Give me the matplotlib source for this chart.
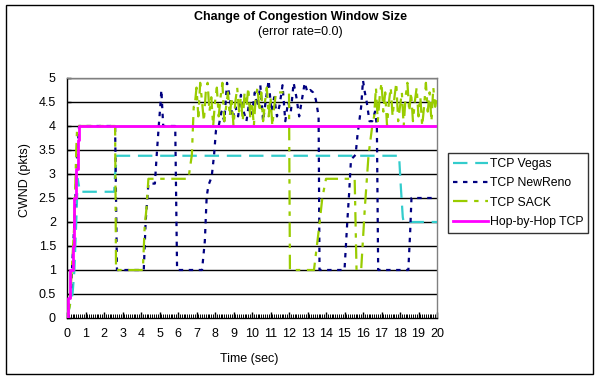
import matplotlib
matplotlib.use("Agg")
import matplotlib.pyplot as plt
from matplotlib.patches import Rectangle

plt.rcParams['font.family'] = ['Liberation Sans', 'DejaVu Sans']

# ---------------- data ----------------
x_ticks = list(range(0, 21))
y_ticks = [0, 0.5, 1, 1.5, 2, 2.5, 3, 3.5, 4, 4.5, 5]
y_tick_labels = ['0', '0.5', '1', '1.5', '2', '2.5', '3', '3.5', '4', '4.5', '5']

vegas_t = [0, 0.3, 0.4, 0.5, 0.58, 0.7, 2.55, 2.6, 2.7, 17.95, 18.05, 18.15, 18.2, 20]
vegas_v = [0, 0.5, 1.0, 2.0, 2.9, 2.63, 2.63, 3.0, 3.38, 3.38, 2.7, 2.1, 2.0, 2.0]

newreno_t = [0, 0.2, 0.4, 0.55, 0.65, 2.6, 2.65, 2.7, 4.15, 4.25, 4.4, 4.75, 4.85, 4.95, 5.05, 5.1, 5.2,
             5.85, 5.95, 7.3, 7.45, 7.55, 7.65, 7.82, 7.95, 8.05,
             8.2, 8.35, 8.5, 8.65, 8.8, 8.95, 9.1, 9.25, 9.4, 9.55, 9.7, 9.85, 10.0, 10.15, 10.3,
             10.45, 10.6, 10.75, 10.9, 11.05, 11.2, 11.35, 11.5, 11.65, 11.8, 11.95, 12.1, 12.25,
             12.4, 12.55, 12.7, 12.85, 13.0, 13.15, 13.3, 13.45, 13.6, 13.65,
             15.0, 15.15, 15.25, 15.35, 15.6, 15.7, 15.8, 15.9, 16.0, 16.1, 16.2, 16.35, 16.5,
             16.65, 16.75, 16.82, 18.45, 18.55, 18.62, 20]
newreno_v = [0, 0.5, 2.0, 3.4, 4.0, 4.0, 2.5, 1.0, 1.0, 2.0, 2.8, 2.8, 3.4, 3.95, 4.45, 4.75, 4.0,
             4.0, 1.0, 1.0, 1.6, 2.53, 2.77, 2.94, 3.4, 3.9,
             4.0, 4.3, 4.1, 4.9, 4.6, 4.15, 4.4, 4.2, 4.65, 4.3, 4.1, 4.5, 4.25, 4.7, 4.4,
             4.85, 4.1, 4.55, 4.95, 4.3, 4.6, 4.2, 4.45, 4.85, 4.1, 4.5, 4.3, 4.9,
             4.6, 4.2, 4.55, 4.9, 4.7, 4.75, 4.7, 4.55, 4.2, 1.0,
             1.0, 2.0, 2.6, 3.3, 3.4, 3.8, 4.1, 4.4, 4.95, 4.7, 4.5, 4.1, 4.1,
             4.3, 4.0, 1.0, 1.0, 1.8, 2.5, 2.5]

sack_t = [0, 0.15, 0.4, 0.5, 0.55, 2.6, 2.65, 4.1, 4.2, 4.3, 4.4, 6.55, 6.6, 6.75, 6.85,
          6.9, 7.0, 7.1, 7.2, 7.3, 7.4, 7.5, 7.6, 7.7, 7.8, 7.9, 8.0, 8.1, 8.2, 8.3, 8.4, 8.5,
          8.6, 8.7, 8.8, 8.9, 9.0, 9.1, 9.2, 9.3, 9.4, 9.5, 9.6, 9.7, 9.8, 9.9, 10.0, 10.1,
          10.2, 10.3, 10.4, 10.5, 10.6, 10.7, 10.8, 10.9, 11.0, 11.1, 11.2, 11.3, 11.4, 12.0,
          12.05, 13.35, 13.6, 13.8, 14.0, 15.55, 15.65, 15.9, 16.1, 16.3, 16.5,
          16.6, 16.7, 16.8, 16.9, 17.0, 17.1, 17.2, 17.3, 17.4, 17.5, 17.6, 17.7, 17.8, 17.9,
          18.0, 18.1, 18.2, 18.3, 18.4, 18.5, 18.6, 18.7, 18.8, 18.9, 19.0, 19.1, 19.2, 19.3,
          19.4, 19.5, 19.6, 19.7, 19.8, 19.9, 20.0]
sack_v = [0, 0.25, 2.0, 3.5, 4.0, 4.0, 1.0, 1.0, 1.9, 2.3, 2.9, 2.9, 3.0, 3.4, 4.4,
          4.4, 4.8, 4.2, 4.9, 4.5, 4.1, 4.7, 4.9, 4.3, 4.6, 4.0, 4.5, 4.8, 4.2, 4.6, 4.9, 4.1,
          4.4, 4.7, 4.2, 4.6, 4.0, 4.5, 4.8, 4.3, 4.6, 4.1, 4.7, 4.4, 4.8, 4.2, 4.5, 4.0,
          4.6, 4.8, 4.3, 4.7, 4.1, 4.5, 4.8, 4.2, 4.6, 4.0, 4.4, 4.7, 4.7, 4.7,
          1.0, 1.0, 1.8, 2.5, 2.9, 2.9, 1.0, 1.0, 2.3, 3.4, 4.0,
          4.2, 4.8, 4.1, 4.6, 4.9, 4.3, 4.7, 4.0, 4.5, 4.8, 4.2, 4.6, 4.9, 4.1,
          4.4, 4.7, 4.0, 4.6, 4.9, 4.3, 4.7, 4.1, 4.5, 4.8, 4.2, 4.6, 4.0, 4.4,
          4.9, 4.3, 4.7, 4.1, 4.8, 4.4, 4.6]

hop_t = [0.05, 0.05, 0.15, 0.15, 0.3, 0.3, 0.37, 0.37, 0.48, 0.48, 0.57, 0.57, 0.64, 0.64, 20]
hop_v = [0, 0.42, 0.42, 1.0, 1.0, 1.5, 1.5, 2.5, 2.5, 3.1, 3.1, 3.7, 3.7, 4.0, 4.0]

# ---------------- figure ----------------
W, H = 601, 384
fig = plt.figure(figsize=(W / 100, H / 100), dpi=100)
fig.patch.set_facecolor('white')

# outer chart border
fig.patches.append(Rectangle((5.5 / W, (H - 374) / H), 587.5 / W, 369 / H,
                             transform=fig.transFigure, fill=False,
                             edgecolor='black', linewidth=1.0))

ax = fig.add_axes([67 / W, (H - 318) / H, 370 / W, 240 / H])

for yv in y_ticks[1:]:
    ax.axhline(yv, color='black', linewidth=1.0, zorder=1)

ax.plot(vegas_t, vegas_v, color='#33CCCC', linewidth=1.6, dashes=(6.5, 3.5),
        label='TCP Vegas', zorder=3)
ax.plot(newreno_t, newreno_v, color='#000080', linewidth=1.6, dashes=(2.0, 2.5),
        label='TCP NewReno', zorder=4)
ax.plot(sack_t, sack_v, color='#99CC00', linewidth=1.6, dashes=(6.5, 3, 2, 3),
        label='TCP SACK', zorder=5)
ax.plot(hop_t, hop_v, color='#FF00FF', linewidth=2.0, label='Hop-by-Hop TCP', zorder=6)

ax.set_xlim(0, 20)
ax.set_ylim(0, 5)
ax.set_xticks(x_ticks)
ax.set_xticklabels([str(v) for v in x_ticks], fontsize=9)
ax.set_yticks(y_ticks)
ax.set_yticklabels(y_tick_labels, fontsize=9)
ax.set_xticks([i / 10 for i in range(0, 201)], minor=True)
ax.tick_params(axis='x', which='major', direction='in', length=4, width=1, pad=7)
ax.tick_params(axis='x', which='minor', direction='in', length=3, width=0.7)
ax.tick_params(axis='y', which='major', direction='in', length=3, width=1, pad=8)

for s in ['left', 'bottom']:
    ax.spines[s].set_color('black')
    ax.spines[s].set_linewidth(1.0)
for s in ['top', 'right']:
    ax.spines[s].set_color('#808080')
    ax.spines[s].set_linewidth(1.0)

fig.text(300.5 / W, 1 - 17 / H, 'Change of Congestion Window Size', ha='center', va='center',
         fontsize=9, fontweight='bold')
fig.text(300.5 / W, 1 - 32 / H, '(error rate=0.0)', ha='center', va='center', fontsize=9)
fig.text(249 / W, 1 - 359 / H, 'Time (sec)', ha='center', va='center', fontsize=9)
fig.text(25 / W, 1 - 180 / H, 'CWND (pkts)', ha='center', va='center', fontsize=9, rotation=90)

leg = fig.legend(loc='upper left', bbox_to_anchor=(448 / W, 1 - 153 / H), fontsize=8.8,
                 frameon=True, fancybox=False, handlelength=2.9, handletextpad=0.12,
                 labelspacing=0.6, borderpad=0.4, borderaxespad=0)
leg.get_frame().set_edgecolor('black')
leg.get_frame().set_linewidth(1.0)

fig.savefig('out.png', dpi=100)
